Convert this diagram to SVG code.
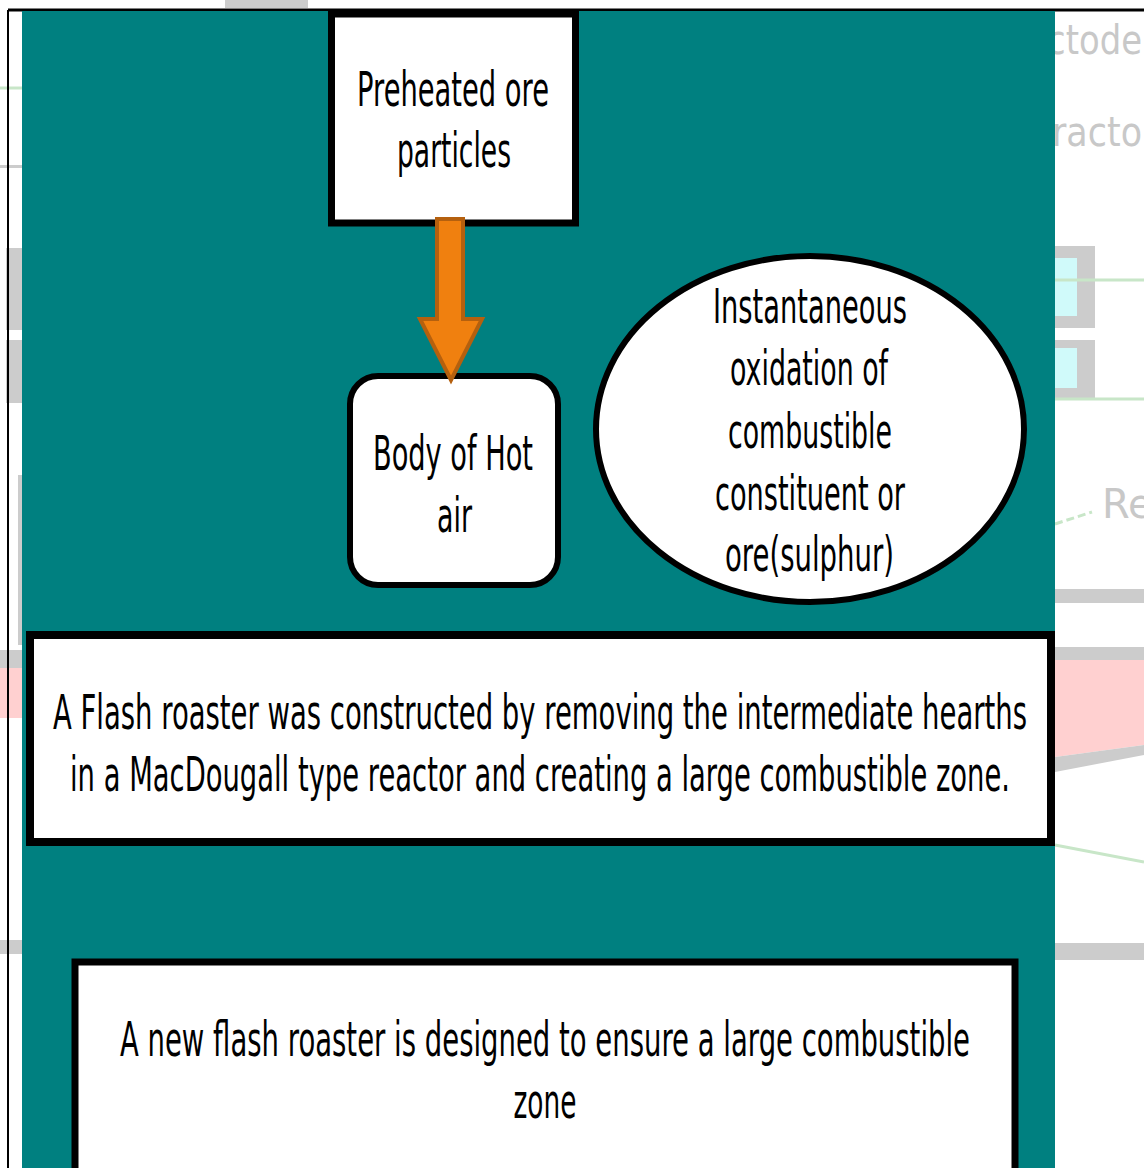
<svg xmlns="http://www.w3.org/2000/svg" width="1144" height="1168" viewBox="0 0 1144 1168">
  <style>
    .node { fill: #ffffff; stroke: #000000; }
    .label { font-family: "DejaVu Sans", "Liberation Sans", sans-serif; font-size: 48px; fill: #000000; text-anchor: middle; }
    .ghost { font-family: "DejaVu Sans", "Liberation Sans", sans-serif; font-size: 40px; fill: #c8c8c8; }
    .gbar { fill: #cccccc; }
    .gline { stroke: #c8e6c8; stroke-width: 3; fill: none; }
  </style>
  <rect x="0" y="0" width="1144" height="1168" fill="#ffffff"/>
  <!-- background remnants -->
  <g id="background">
    <rect class="gbar" x="225" y="0" width="83" height="8"/>
    <rect class="gbar" x="0" y="165" width="22" height="3"/>
    <line class="gline" x1="0" y1="88" x2="22" y2="88"/>
    <rect class="gbar" x="6" y="248" width="16" height="82"/>
    <rect class="gbar" x="6" y="340" width="16" height="63"/>
    <rect class="gbar" x="18" y="475" width="4" height="170"/>
    <rect x="0" y="650" width="22" height="18" fill="#cccccc"/>
    <rect x="0" y="668" width="22" height="50" fill="#ffd0d0"/>
    <rect class="gbar" x="0" y="940" width="22" height="14"/>
    <text class="ghost" x="1047" y="54" textLength="95" lengthAdjust="spacingAndGlyphs">ctode</text>
    <text class="ghost" x="1052" y="146" textLength="90" lengthAdjust="spacingAndGlyphs">racto</text>
    <rect class="gbar" x="1055" y="246" width="40" height="82"/>
    <rect x="1055" y="258" width="22" height="58" fill="#d0fafa"/>
    <line class="gline" x1="1055" y1="280" x2="1144" y2="280"/>
    <rect class="gbar" x="1055" y="340" width="40" height="58"/>
    <rect x="1055" y="348" width="22" height="40" fill="#d0fafa"/>
    <line class="gline" x1="1055" y1="399" x2="1144" y2="399"/>
    <line class="gline" x1="1055" y1="524" x2="1092" y2="512" stroke-dasharray="8 4"/>
    <text class="ghost" x="1102" y="518">Re</text>
    <rect class="gbar" x="1055" y="589" width="89" height="14"/>
    <rect class="gbar" x="1055" y="647" width="89" height="13"/>
    <polygon points="1055,660 1144,660 1144,745 1055,757" fill="#ffd0d0"/>
    <polygon points="1055,757 1144,745 1144,755 1055,772" fill="#cccccc"/>
    <line class="gline" x1="1055" y1="845" x2="1144" y2="862"/>
    <rect class="gbar" x="1055" y="943" width="89" height="17"/>
    <line x1="8" y1="10" x2="1144" y2="10" stroke="#000" stroke-width="3"/>
    <line x1="8" y1="10" x2="8" y2="1168" stroke="#000" stroke-width="2"/>
  </g>
  <rect id="panel" x="22" y="11" width="1033" height="1157" fill="#008080"/>

  <g id="node-preheated">
    <rect class="node" x="331.5" y="14" width="244" height="209" stroke-width="7"/>
    <text class="label" x="453" y="106" textLength="192" lengthAdjust="spacingAndGlyphs">Preheated ore</text>
    <text class="label" x="454" y="167" textLength="114" lengthAdjust="spacingAndGlyphs">particles</text>
  </g>

  <g id="node-hotair">
    <rect class="node" x="350" y="376" width="208" height="209" rx="28" ry="28" stroke-width="6"/>
    <text class="label" x="453" y="470" textLength="160" lengthAdjust="spacingAndGlyphs">Body of Hot</text>
    <text class="label" x="454.5" y="532" textLength="35" lengthAdjust="spacingAndGlyphs">air</text>
  </g>

  <g id="node-oxidation">
    <ellipse class="node" cx="810" cy="429" rx="214" ry="173" stroke-width="6"/>
    <text class="label" x="810" y="323" textLength="194" lengthAdjust="spacingAndGlyphs">Instantaneous</text>
    <text class="label" x="809" y="385" textLength="158" lengthAdjust="spacingAndGlyphs">oxidation of</text>
    <text class="label" x="810" y="448" textLength="164" lengthAdjust="spacingAndGlyphs">combustible</text>
    <text class="label" x="810" y="510" textLength="190" lengthAdjust="spacingAndGlyphs">constituent or</text>
    <text class="label" x="809.5" y="571" textLength="169" lengthAdjust="spacingAndGlyphs">ore(sulphur)</text>
  </g>

  <g id="node-flash">
    <rect class="node" x="30" y="635" width="1021" height="207" stroke-width="8"/>
    <text class="label" x="540" y="729" textLength="974" lengthAdjust="spacingAndGlyphs">A Flash roaster was constructed by removing the intermediate hearths</text>
    <text class="label" x="540" y="791" textLength="940" lengthAdjust="spacingAndGlyphs">in a MacDougall type reactor and creating a large combustible zone.</text>
  </g>

  <g id="node-newflash">
    <rect class="node" x="75" y="962" width="940" height="240" stroke-width="7"/>
    <text class="label" x="545" y="1056" textLength="850" lengthAdjust="spacingAndGlyphs">A new flash roaster is designed to ensure a large combustible</text>
    <text class="label" x="545" y="1118" textLength="63" lengthAdjust="spacingAndGlyphs">zone</text>
  </g>

  <g id="connectors">
    <polygon points="437,219 463,219 463,319 482,319 451,380 420,319 437,319" fill="#f0800f" stroke="#b5600e" stroke-width="4" stroke-linejoin="miter"/>
  </g>
</svg>
